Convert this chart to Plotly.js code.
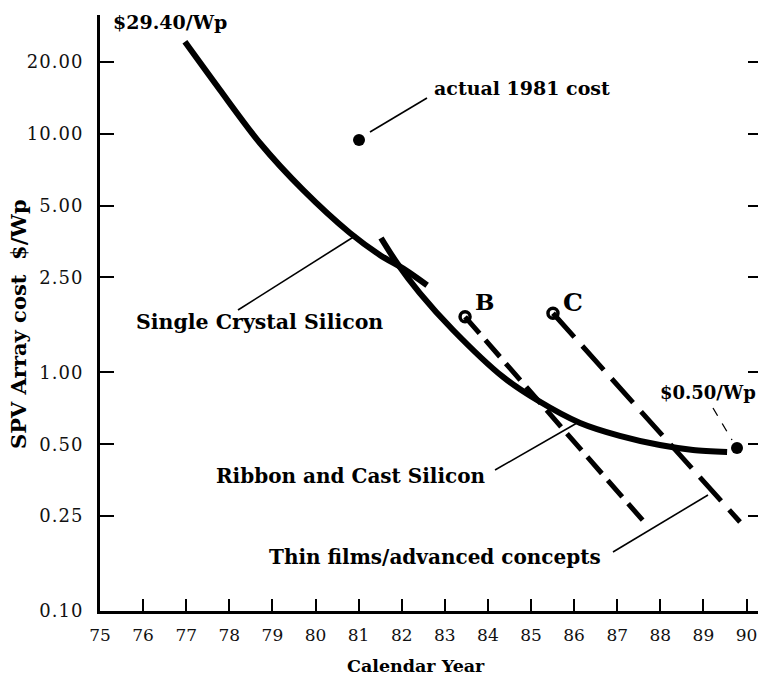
<!DOCTYPE html>
<html>
<head>
<meta charset="utf-8">
<script src="https://cdn.plot.ly/plotly-3.0.1.min.js"></script>
<style>
html,body{margin:0;padding:0;background:#fff;}
#chart{width:764px;height:686px;}
#chart .ytick text{letter-spacing:1px;}
</style>
</head>
<body>
<div id="chart"></div>
<script>
// ---- data ----
const singleYears = [76.97, 77.78, 78.71, 79.71, 80.80, 81.50, 82.08, 82.59];
const singleCost  = [24.3, 15.3, 9.15, 5.82, 3.84, 3.10, 2.69, 2.32];

const ribbonYears = [81.52, 81.89, 82.42, 83.19, 84.35, 85.14, 86.14, 87.06, 87.99, 88.76, 89.55];
const ribbonCost  = [3.66, 2.875, 2.15, 1.506, 0.957, 0.766, 0.614, 0.542, 0.496, 0.473, 0.464];

const thinBYears = [83.47, 87.69];
const thinBCost  = [1.71, 0.229];
const thinCYears = [85.51, 89.85];
const thinCCost  = [1.77, 0.236];

const actualYear = [81.01];
const actualCost = [9.42];
const endYear = [89.78];
const endCost = [0.482];

const yTickVals = [0.10, 0.25, 0.50, 1.00, 2.50, 5.00, 10.00, 20.00];
const yTickText = ["0.10", "0.25", "0.50", "1.00", "2.50", "5.00", "10.00", "20.00"];
const xTickVals = [75, 76, 77, 78, 79, 80, 81, 82, 83, 84, 85, 86, 87, 88, 89, 90];
const xTickText = ["75", "76", "77", "78", "79", "80", "81", "82", "83", "84", "85", "86", "87", "88", "89", "90"];

// ---- layout helpers (pixel -> paper) ----
const L = 100, R = 6, T = 15, B = 75, W = 764, H = 686;
const pw = W - L - R, ph = H - T - B;
const px = x => (x - L) / pw;
const py = y => (H - B - y) / ph;

const boldFont = {family: "DejaVu Serif", size: 19, color: "#000", weight: "bold"};

function label(text, cx, cy, size) {
  return {text: "<b>" + text + "</b>", x: px(cx), y: py(cy), xref: "paper", yref: "paper",
          showarrow: false, xanchor: "center", yanchor: "middle",
          font: Object.assign({}, boldFont, size ? {size: size} : {})};
}
function leader(x0, y0, x1, y1, dash, w) {
  return {type: "line", xref: "paper", yref: "paper", x0: px(x0), y0: py(y0), x1: px(x1), y1: py(y1),
          line: {color: "#000", width: w || 1.6, dash: dash || "solid"}};
}

const traces = [
  {x: singleYears, y: singleCost, mode: "lines", line: {color: "#000", width: 6, shape: "spline", smoothing: 0.8}, hoverinfo: "skip"},
  {x: ribbonYears, y: ribbonCost, mode: "lines", line: {color: "#000", width: 6, shape: "spline", smoothing: 0.8}, hoverinfo: "skip"},
  {x: thinBYears, y: thinBCost, mode: "lines", line: {color: "#000", width: 5, dash: "22px,9px"}, hoverinfo: "skip"},
  {x: thinCYears, y: thinCCost, mode: "lines", line: {color: "#000", width: 5, dash: "32px,12px"}, hoverinfo: "skip"},
  {x: [thinBYears[0], thinCYears[0]], y: [thinBCost[0], thinCCost[0]], mode: "markers",
   marker: {symbol: "circle-open", size: 10, color: "#000", line: {width: 3.5, color: "#000"}}, hoverinfo: "skip"},
  {x: actualYear, y: actualCost, mode: "markers", marker: {size: 12, color: "#000"}, hoverinfo: "skip"},
  {x: endYear, y: endCost, mode: "markers", marker: {size: 12, color: "#000"}, hoverinfo: "skip"},
  {x: [75], y: [1], yaxis: "y2", mode: "markers", marker: {opacity: 0}, hoverinfo: "skip"}
];

const yRange = [-1, 1.498];
const layout = {
  width: W, height: H,
  margin: {l: L, r: R, t: T, b: B},
  paper_bgcolor: "#fff", plot_bgcolor: "#fff",
  showlegend: false,
  xaxis: {
    range: [75, 75 + pw / 43.1], tickvals: xTickVals, ticktext: xTickText,
    ticks: "inside", ticklen: 12, tickwidth: 2, tickcolor: "#000",
    showline: true, linewidth: 3, linecolor: "#000", showgrid: false, zeroline: false,
    ticklabelstandoff: 7,
    tickfont: {family: "DejaVu Serif", size: 17, color: "#111"}
  },
  yaxis: {
    type: "log", range: yRange, tickvals: yTickVals, ticktext: yTickText,
    ticks: "inside", ticklen: 14, tickwidth: 2, tickcolor: "#000",
    showline: true, linewidth: 3, linecolor: "#000", showgrid: false, zeroline: false,
    ticklabelstandoff: 10,
    tickfont: {family: "DejaVu Serif", size: 18, color: "#111"}
  },
  yaxis2: {
    type: "log", range: yRange, tickvals: yTickVals, overlaying: "y", side: "right",
    ticks: "inside", ticklen: 10, tickwidth: 2, tickcolor: "#000",
    showticklabels: false, showline: false, showgrid: false, zeroline: false
  },
  annotations: [
    label("$29.40/Wp", 170, 22, 19),
    label("actual 1981 cost", 522, 88, 19),
    label("Single Crystal Silicon", 259, 322, 20.5),
    label("Ribbon and Cast Silicon", 351, 476, 20),
    label("Thin films/advanced concepts", 435, 557, 20),
    label("$0.50/Wp", 708, 392, 18),
    label("B", 484, 301, 23),
    label("C", 573, 302, 25),
    label("Calendar Year", 416, 666, 17.5),
    Object.assign(label("SPV Array cost  $/Wp", 18, 324, 21), {textangle: -90})
  ],
  shapes: [
    leader(370, 132, 427, 98),
    leader(238, 310, 355, 236),
    leader(495, 470, 577, 423),
    leader(613, 552, 708, 495),
    leader(713, 408, 732, 440, "dash", 1.3)
  ]
};

Plotly.newPlot("chart", traces, layout, {staticPlot: true, displayModeBar: false});
</script>
</body>
</html>
